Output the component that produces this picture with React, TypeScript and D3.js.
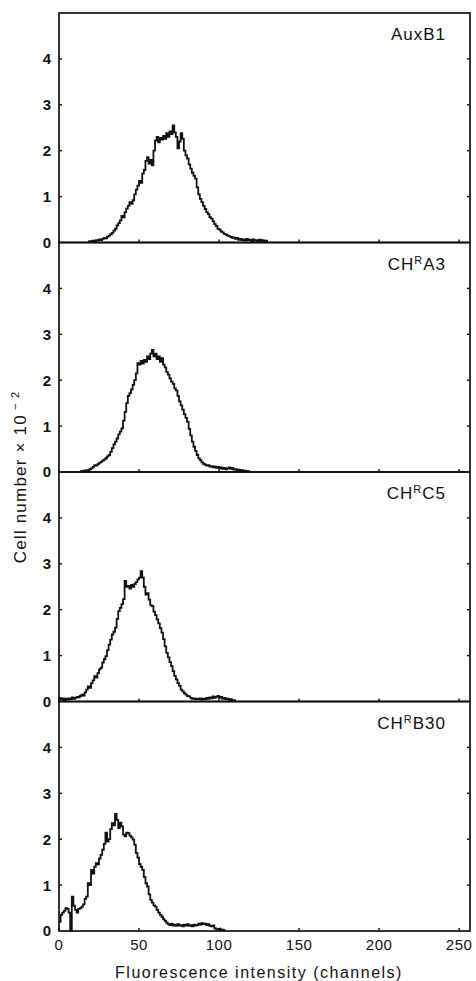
import React, { useEffect, useRef } from 'react';
import * as d3 from 'd3';

// histogram counts (x 10^2 cells) per channel, each series starts at its own channel
const auxB1Start = 18;
const auxB1 = [
  0.02, 0.03, 0.02, 0.04, 0.03, 0.05, 0.04, 0.07, 0.05, 0.08,
  0.10, 0.09, 0.13, 0.15, 0.18, 0.21, 0.26, 0.30, 0.37, 0.42,
  0.48, 0.58, 0.55, 0.66, 0.74, 0.80, 0.88, 0.84, 0.92, 1.05,
  1.15, 1.24, 1.34, 1.30, 1.50, 1.58, 1.78, 1.86, 1.72, 1.80,
  1.68, 2.00, 2.22, 2.30, 2.18, 2.28, 2.24, 2.32, 2.26, 2.38,
  2.30, 2.42, 2.36, 2.55, 2.40, 2.30, 2.05, 2.20, 2.38, 2.26,
  2.00, 1.90, 1.83, 1.70, 1.61, 1.52, 1.45, 1.39, 1.20, 1.05,
  0.95, 0.88, 0.80, 0.73, 0.66, 0.62, 0.55, 0.52, 0.46, 0.40,
  0.36, 0.30, 0.28, 0.24, 0.22, 0.19, 0.17, 0.15, 0.14, 0.12,
  0.10, 0.11, 0.08, 0.10, 0.06, 0.08, 0.05, 0.07, 0.04, 0.08,
  0.05, 0.06, 0.03, 0.07, 0.04, 0.05, 0.03, 0.06, 0.02, 0.05,
  0.03, 0.04, 0.0,
];

const chrA3Start = 13;
const chrA3 = [
  0.02, 0.01, 0.03, 0.02, 0.04, 0.03, 0.06, 0.08, 0.11, 0.15,
  0.14, 0.17, 0.20, 0.22, 0.25, 0.27, 0.30, 0.34, 0.37, 0.44,
  0.52, 0.60, 0.66, 0.73, 0.82, 0.88, 0.95, 1.12, 1.31, 1.50,
  1.66, 1.72, 1.80, 1.90, 2.00, 2.15, 2.37, 2.34, 2.42, 2.36,
  2.44, 2.40, 2.52, 2.46, 2.58, 2.66, 2.52, 2.58, 2.46, 2.52,
  2.40, 2.48, 2.34, 2.28, 2.18, 2.12, 2.04, 1.97, 1.92, 1.82,
  1.78, 1.66, 1.54, 1.45, 1.36, 1.26, 1.18, 1.09, 0.94, 0.80,
  0.66, 0.55, 0.46, 0.37, 0.30, 0.26, 0.21, 0.18, 0.16, 0.14,
  0.15, 0.12, 0.13, 0.10, 0.12, 0.09, 0.11, 0.08, 0.10, 0.07,
  0.09, 0.06, 0.08, 0.10, 0.07, 0.09, 0.05, 0.06, 0.03, 0.05,
  0.02, 0.04, 0.02, 0.03, 0.01, 0.02, 0.0,
];

const chrC5Start = 0;
const chrC5 = [
  0.08, 0.04, 0.07, 0.03, 0.06, 0.04, 0.07, 0.05, 0.09, 0.06,
  0.08, 0.10, 0.09, 0.12, 0.15, 0.13, 0.20, 0.26, 0.33, 0.30,
  0.40, 0.46, 0.55, 0.52, 0.62, 0.70, 0.74, 0.85, 0.92, 0.99,
  1.12, 1.24, 1.35, 1.46, 1.52, 1.61, 1.80, 1.97, 2.04, 2.12,
  2.23, 2.63, 2.50, 2.52, 2.46, 2.54, 2.50, 2.56, 2.60, 2.66,
  2.70, 2.84, 2.70, 2.50, 2.33, 2.36, 2.22, 2.10, 2.08, 1.96,
  1.88, 1.79, 1.70, 1.60, 1.50, 1.36, 1.20, 1.06, 0.96, 0.86,
  0.77, 0.66, 0.56, 0.48, 0.40, 0.34, 0.26, 0.22, 0.18, 0.15,
  0.12, 0.11, 0.08, 0.06, 0.07, 0.05, 0.06, 0.05, 0.07, 0.04,
  0.06, 0.05, 0.08, 0.06, 0.09, 0.07, 0.11, 0.08, 0.10, 0.12,
  0.08, 0.10, 0.06, 0.08, 0.05, 0.06, 0.03, 0.05, 0.02, 0.03,
  0.0,
];

const chrB30Start = 0;
const chrB30 = [
  0.20, 0.35, 0.40, 0.44, 0.50, 0.48, 0.40, 0.0, 0.75, 0.55,
  0.46, 0.40, 0.48, 0.50, 0.53, 0.58, 0.70, 0.75, 1.04, 1.00,
  1.33, 1.25, 1.40, 1.48, 1.45, 1.58, 1.66, 1.77, 1.90, 2.14,
  1.95, 2.00, 2.22, 2.35, 2.30, 2.55, 2.42, 2.24, 2.36, 2.28,
  2.10, 2.06, 2.14, 2.13, 2.08, 2.04, 1.99, 1.88, 1.70, 1.60,
  1.46, 1.40, 1.33, 1.18, 1.04, 0.97, 0.80, 0.68, 0.62, 0.56,
  0.53, 0.46, 0.40, 0.35, 0.31, 0.26, 0.22, 0.18, 0.15, 0.13,
  0.16, 0.12, 0.14, 0.11, 0.15, 0.12, 0.13, 0.10, 0.14, 0.12,
  0.15, 0.11, 0.13, 0.10, 0.14, 0.12, 0.13, 0.16, 0.14, 0.17,
  0.15, 0.16, 0.13, 0.15, 0.11, 0.10, 0.12, 0.06, 0.04, 0.03,
  0.05, 0.02, 0.03, 0.01, 0.0,
];

const panelNames = ['AuxB1', 'CHRA3', 'CHRC5', 'CHRB30'];
const seriesList = [auxB1, chrA3, chrC5, chrB30];
const seriesStarts = [auxB1Start, chrA3Start, chrC5Start, chrB30Start];
const xTicks = [0, 50, 100, 150, 200, 250];
const yTicks = [0, 1, 2, 3, 4];

const App: React.FC = () => {
  const svgRef = useRef<SVGSVGElement>(null);

  useEffect(() => {
    if (!svgRef.current) return;
    const svg = d3.select(svgRef.current);
    svg.selectAll('*').remove();

    const left = 59;
    const right = 470;
    const top = 13;
    const panelH = 229.5;
    const font = 'Liberation Sans, Arial, Helvetica, sans-serif';

    const x = d3.scaleLinear().domain([0, 256.8]).range([left, right]);

    seriesList.forEach((values, i) => {
      const y0 = top + i * panelH;
      const y = d3.scaleLinear().domain([0, 5]).range([y0 + panelH, y0]);
      const g = svg.append('g');

      // frame
      g.append('rect')
        .attr('x', left).attr('y', y0)
        .attr('width', right - left).attr('height', panelH)
        .attr('fill', 'none').attr('stroke', '#111').attr('stroke-width', 1.7);

      // y ticks, both sides pointing in
      yTicks.forEach(t => {
        if (t > 0) {
          g.append('line').attr('x1', left).attr('x2', left + 3)
            .attr('y1', y(t)).attr('y2', y(t)).attr('stroke', '#111').attr('stroke-width', 1.4);
          g.append('line').attr('x1', right - 3).attr('x2', right)
            .attr('y1', y(t)).attr('y2', y(t)).attr('stroke', '#111').attr('stroke-width', 1.4);
        }
        g.append('text')
          .attr('x', 51).attr('y', y(t)).attr('dy', '0.36em')
          .attr('text-anchor', 'end')
          .style('font-family', font).style('font-size', '15px').style('font-weight', 'bold')
          .attr('fill', '#111')
          .text(t);
      });

      // x ticks pointing up
      xTicks.forEach(t => {
        g.append('line').attr('x1', x(t)).attr('x2', x(t))
          .attr('y1', y(0)).attr('y2', y(0) - 3).attr('stroke', '#111').attr('stroke-width', 1.4);
      });

      const pts = values.map((v, k) => [seriesStarts[i] + k, v] as [number, number]);
      const line = d3.line<[number, number]>()
        .x(d => x(d[0]))
        .y(d => y(d[1]))
        .curve(d3.curveStepAfter);
      g.append('path')
        .attr('d', line(pts) as string)
        .attr('fill', 'none').attr('stroke', '#111').attr('stroke-width', 1.8);

      // panel label
      const name = panelNames[i];
      const label = g.append('text')
        .attr('x', 446).attr('y', y0 + 27)
        .attr('text-anchor', 'end')
        .style('font-family', font).style('font-size', '17px')
        .style('letter-spacing', '1px')
        .attr('fill', '#111');
      if (name.startsWith('CHR')) {
        label.append('tspan').text('CH');
        label.append('tspan').attr('dy', -6).style('font-size', '11px').text('R');
        label.append('tspan').attr('dy', 6).text(name.slice(3));
      } else {
        label.text(name);
      }
    });

    const bottom = top + 4 * panelH;
    xTicks.forEach(t => {
      svg.append('text')
        .attr('x', x(t)).attr('y', bottom + 19)
        .attr('text-anchor', 'middle')
        .style('font-family', font).style('font-size', '15px')
        .style('letter-spacing', '0.5px')
        .attr('fill', '#111')
        .text(t);
    });

    svg.append('text')
      .attr('x', 259).attr('y', 978)
      .attr('text-anchor', 'middle')
      .style('font-family', font).style('font-size', '16px')
      .style('letter-spacing', '1.5px')
      .attr('fill', '#111')
      .text('Fluorescence intensity (channels)');

    const yt = svg.append('text')
      .attr('transform', 'translate(26,477) rotate(-90)')
      .attr('text-anchor', 'middle')
      .style('font-family', font).style('font-size', '17px')
      .style('letter-spacing', '1.2px')
      .attr('fill', '#111');
    yt.append('tspan').text('Cell number \u00d7 10');
    yt.append('tspan').attr('dy', -7).style('font-size', '11px').text(' \u2212 2');
  }, []);

  return (
    <svg
      ref={svgRef}
      width={476}
      height={981}
      style={{ position: 'absolute', left: 0, top: 0, background: '#fff' }}
    />
  );
};

export default App;
